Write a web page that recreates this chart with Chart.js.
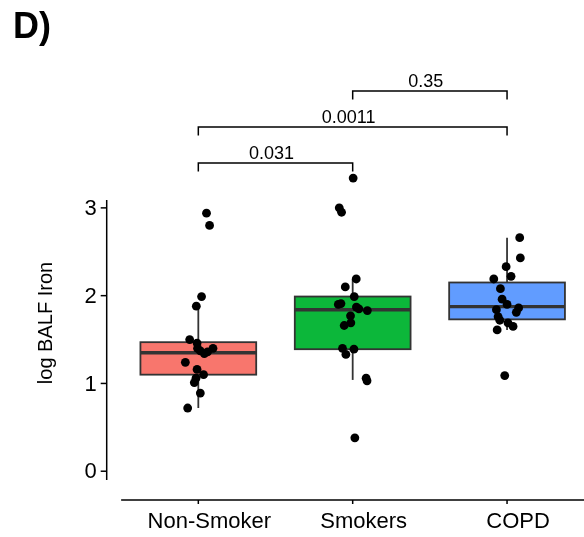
<!DOCTYPE html>
<html>
<head>
<meta charset="utf-8">
<script src="https://cdn.jsdelivr.net/npm/chart.js@4"></script>
<style>
  html, body { margin: 0; padding: 0; background: #ffffff; }
  canvas { display: block; }
</style>
</head>
<body>
<canvas id="ironChart" width="584" height="537"></canvas>
<script>
// groups along the x axis
const groups = ["Non-Smoker", "Smokers", "COPD"];

// box plot summaries (log BALF iron)
const whiskerLow = [0.72, 1.04, 1.61];
const q1 = [1.10, 1.39, 1.73];
const median = [1.35, 1.84, 1.875];
const q3 = [1.47, 1.99, 2.15];
const whiskerHigh = [1.87, 2.19, 2.66];

// individual samples and their horizontal jitter (in category units)
const nonSmokerIron = [2.94, 2.80, 1.99, 1.88, 1.50, 1.46, 1.40, 1.37, 1.34, 1.36, 1.40, 1.24, 1.16, 1.10, 1.06, 1.01, 0.89, 0.72];
const nonSmokerJitter = [0.053, 0.073, 0.021, -0.013, -0.056, -0.008, -0.005, 0.013, 0.039, 0.060, 0.095, -0.084, -0.008, 0.034, -0.015, -0.026, 0.013, -0.069];

const smokerIron = [3.34, 3.00, 2.95, 2.19, 2.10, 1.99, 1.90, 1.91, 1.87, 1.85, 1.83, 1.77, 1.69, 1.66, 1.40, 1.39, 1.33, 1.06, 1.03, 0.38];
const smokerJitter = [0.003, -0.087, -0.072, 0.023, -0.048, 0.010, -0.093, -0.076, 0.024, 0.040, 0.095, -0.014, -0.012, -0.055, -0.066, 0.008, -0.044, 0.087, 0.093, 0.014];

const copdIron = [2.66, 2.43, 2.33, 2.22, 2.19, 2.08, 1.96, 1.90, 1.86, 1.81, 1.84, 1.76, 1.72, 1.69, 1.65, 1.61, 1.09];
const copdJitter = [0.082, 0.086, -0.006, 0.026, -0.086, -0.043, -0.032, 0, 0.075, 0.060, -0.069, -0.058, -0.047, 0.006, 0.039, -0.064, -0.015];

const yTicks = [0, 1, 2, 3];

// pairwise comparisons
const pairFrom = [1, 1, 2];
const pairTo = [2, 3, 3];
const pairHeight = [3.51, 3.92, 4.33];
const pValues = ["0.031", "0.0011", "0.35"];

const FONT = '"Liberation Sans", Arial, Helvetica, sans-serif';
const boxColors = ["#F8766D", "#0CB73A", "#619CFF"];
const BOX_HALF = 0.375;
// visible extent of the y axis line
const Y_AXIS_FROM = -0.1;
const Y_AXIS_TO = 3.09;

function toPoints(values, jitter, pos) {
  return values.map((v, i) => ({ x: pos + jitter[i], y: v }));
}

const boxPlotPlugin = {
  id: "boxPlot",
  beforeDatasetsDraw(chart) {
    const { ctx } = chart;
    const x = chart.scales.x;
    const y = chart.scales.y;
    ctx.save();
    ctx.strokeStyle = "#333333";
    groups.forEach((g, i) => {
      const pos = i + 1;
      const cx = x.getPixelForValue(pos);
      const left = x.getPixelForValue(pos - BOX_HALF);
      const right = x.getPixelForValue(pos + BOX_HALF);

      // whisker
      ctx.lineWidth = 1.8;
      ctx.beginPath();
      ctx.moveTo(cx, y.getPixelForValue(whiskerLow[i]));
      ctx.lineTo(cx, y.getPixelForValue(whiskerHigh[i]));
      ctx.stroke();

      // box
      const top = y.getPixelForValue(q3[i]);
      const bottom = y.getPixelForValue(q1[i]);
      ctx.fillStyle = boxColors[i];
      ctx.fillRect(left, top, right - left, bottom - top);
      ctx.strokeRect(left, top, right - left, bottom - top);

      // median
      const my = y.getPixelForValue(median[i]);
      ctx.lineWidth = 3.4;
      ctx.beginPath();
      ctx.moveTo(left, my);
      ctx.lineTo(right, my);
      ctx.stroke();
    });
    ctx.restore();
  }
};

const axesPlugin = {
  id: "axesAndLabels",
  afterDraw(chart) {
    const { ctx, chartArea, width } = chart;
    const x = chart.scales.x;
    const y = chart.scales.y;
    ctx.save();
    ctx.strokeStyle = "#000000";
    ctx.fillStyle = "#000000";
    ctx.lineWidth = 1.5;

    // y axis
    const ax = chartArea.left + 1;
    const axisBottom = y.getPixelForValue(Y_AXIS_FROM);
    ctx.beginPath();
    ctx.moveTo(ax, y.getPixelForValue(Y_AXIS_TO));
    ctx.lineTo(ax, axisBottom);
    ctx.stroke();
    ctx.font = "22px " + FONT;
    ctx.textAlign = "right";
    ctx.textBaseline = "middle";
    yTicks.forEach((t) => {
      const py = y.getPixelForValue(t);
      ctx.beginPath();
      ctx.moveTo(ax - 6, py);
      ctx.lineTo(ax, py);
      ctx.stroke();
      ctx.fillText(String(t), ax - 10, py + 1);
    });

    // x axis
    const ay = axisBottom + 20;
    ctx.beginPath();
    ctx.moveTo(x.getPixelForValue(0.5), ay);
    ctx.lineTo(width, ay);
    ctx.stroke();
    ctx.textAlign = "center";
    ctx.textBaseline = "alphabetic";
    groups.forEach((g, i) => {
      const px = x.getPixelForValue(i + 1);
      ctx.beginPath();
      ctx.moveTo(px, ay);
      ctx.lineTo(px, ay + 4);
      ctx.stroke();
      ctx.fillText(g, px + 11, ay + 28);
    });

    // axis title
    ctx.save();
    ctx.translate(52, 323);
    ctx.rotate(-Math.PI / 2);
    ctx.font = "20px " + FONT;
    ctx.textAlign = "center";
    ctx.fillText("log BALF Iron", 0, 0);
    ctx.restore();

    // comparison brackets
    ctx.lineWidth = 1.5;
    ctx.font = "18px " + FONT;
    ctx.textAlign = "center";
    ctx.textBaseline = "alphabetic";
    const leg = 0.095;
    pValues.forEach((p, i) => {
      const x1 = x.getPixelForValue(pairFrom[i]);
      const x2 = x.getPixelForValue(pairTo[i]);
      const by = y.getPixelForValue(pairHeight[i]);
      const ly = y.getPixelForValue(pairHeight[i] - leg);
      ctx.beginPath();
      ctx.moveTo(x1, ly);
      ctx.lineTo(x1, by);
      ctx.lineTo(x2, by);
      ctx.lineTo(x2, ly);
      ctx.stroke();
      ctx.fillText(p, (x1 + x2) / 2 - 4, by - 4);
    });

    // panel tag
    ctx.font = "bold 36px " + FONT;
    ctx.textAlign = "left";
    ctx.fillText("D)", 13, 38);
    ctx.restore();
  }
};

const pointStyle = {
  backgroundColor: "#000000",
  borderWidth: 0,
  pointRadius: 4.4,
  clip: false
};

new Chart(document.getElementById("ironChart"), {
  type: "scatter",
  data: {
    datasets: [
      { label: groups[0], data: toPoints(nonSmokerIron, nonSmokerJitter, 1), ...pointStyle },
      { label: groups[1], data: toPoints(smokerIron, smokerJitter, 2), ...pointStyle },
      { label: groups[2], data: toPoints(copdIron, copdJitter, 3), ...pointStyle }
    ]
  },
  options: {
    responsive: false,
    animation: false,
    devicePixelRatio: 1,
    layout: {
      padding: { left: 105.7, right: 0.9, top: 76.2, bottom: 57 }
    },
    scales: {
      x: { type: "linear", min: 0.4, max: 3.47, display: false },
      y: { type: "linear", min: -0.1, max: 4.5, display: false }
    },
    plugins: {
      legend: { display: false },
      tooltip: { enabled: false }
    }
  },
  plugins: [boxPlotPlugin, axesPlugin]
});
</script>
</body>
</html>
